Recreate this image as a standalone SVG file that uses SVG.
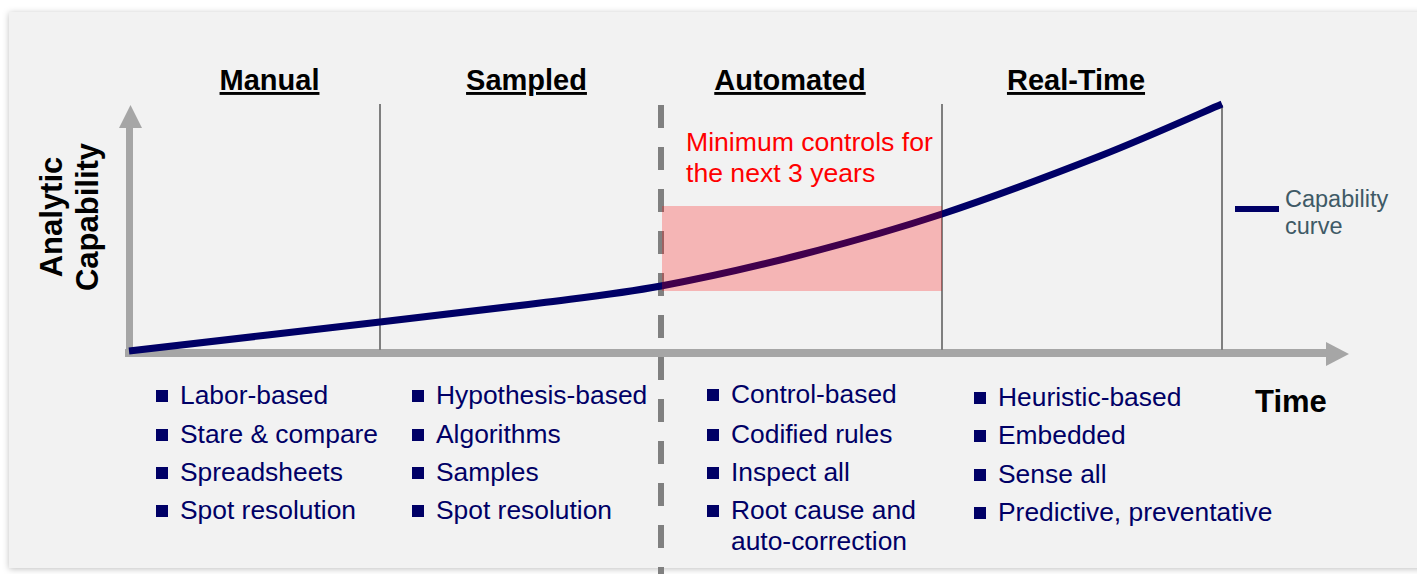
<svg xmlns="http://www.w3.org/2000/svg" width="1417" height="574" viewBox="0 0 1417 574">
<defs>
<filter id="sh" x="-5%" y="-5%" width="110%" height="110%">
<feDropShadow dx="0" dy="1" stdDeviation="3" flood-color="#000" flood-opacity="0.25"/>
</filter>
<style>
.hdr{font-family:"Liberation Sans",Arial,sans-serif;font-weight:bold;font-size:29px;fill:#000;text-anchor:middle;text-decoration:underline}
.ax{font-family:"Liberation Sans",Arial,sans-serif;font-weight:bold;font-size:31px;fill:#000}
.bt{font-family:"Liberation Sans",Arial,sans-serif;font-size:26.4px;fill:#000066}
.red{font-family:"Liberation Sans",Arial,sans-serif;font-size:26.6px;fill:#ff0000}
.leg{font-family:"Liberation Sans",Arial,sans-serif;font-size:23.5px;fill:#3f5a66}
.sq{fill:#000066}
.vl{stroke:#7f7f7f;stroke-width:2}
</style>
</defs>
<rect width="1417" height="574" fill="#ffffff"/>
<rect x="9" y="12" width="1420" height="556" fill="#f2f2f2" filter="url(#sh)"/>

<g id="axes">
<rect x="126" y="126" width="7" height="228" fill="#a6a6a6"/>
<polygon points="119,128 142,128 130.5,105" fill="#a6a6a6"/>
<rect x="125" y="349" width="1203" height="8" fill="#a6a6a6"/>
<polygon points="1326,342 1326,366 1349,354" fill="#a6a6a6"/>
<text class="ax" transform="translate(62,217) rotate(-90)" text-anchor="middle">Analytic</text>
<text class="ax" transform="translate(98,217) rotate(-90)" text-anchor="middle">Capability</text>
<text class="ax" x="1255" y="412">Time</text>
</g>

<g id="dividers">
<line class="vl" x1="380" y1="104" x2="380" y2="350"/>
<line class="vl" x1="942" y1="104" x2="942" y2="350"/>
<line class="vl" x1="1222" y1="105" x2="1222" y2="350"/>
<line x1="661" y1="105" x2="661" y2="574" stroke="#808080" stroke-width="6" stroke-dasharray="23 19"/>
</g>

<g id="headers">
<text class="hdr" x="269.5" y="90">Manual</text>
<text class="hdr" x="526.5" y="90">Sampled</text>
<text class="hdr" x="790" y="90">Automated</text>
<text class="hdr" x="1076" y="90">Real-Time</text>
</g>

<g id="curve">
<path d="M129,351 C170.8,346.2 311.5,330 380,322 C448.5,314 493.2,309 540,303 C586.8,297 617.7,294 661,286 C704.3,278 753.2,267 800,255 C846.8,243 892,230.5 942,214 C992,197.5 1053.3,174.3 1100,156 C1146.7,137.7 1201.7,112.7 1222,104" fill="none" stroke="#000066" stroke-width="7"/>
</g>

<g id="target-zone">
<rect x="662" y="206" width="280" height="85" fill="#ff0000" fill-opacity="0.25"/>
<text class="red" x="686" y="151">Minimum controls for</text>
<text class="red" x="686" y="182">the next 3 years</text>
</g>

<g id="legend">
<line x1="1235" y1="209" x2="1279" y2="209" stroke="#000066" stroke-width="6"/>
<text class="leg" x="1285" y="207">Capability</text>
<text class="leg" x="1285" y="234">curve</text>
</g>

<g id="manual-list">
<rect class="sq" x="156" y="390" width="12" height="12"/><text class="bt" x="180" y="404">Labor-based</text>
<rect class="sq" x="156" y="429" width="12" height="12"/><text class="bt" x="180" y="443">Stare &amp; compare</text>
<rect class="sq" x="156" y="467" width="12" height="12"/><text class="bt" x="180" y="481">Spreadsheets</text>
<rect class="sq" x="156" y="505" width="12" height="12"/><text class="bt" x="180" y="519">Spot resolution</text>
</g>

<g id="sampled-list">
<rect class="sq" x="412" y="390" width="12" height="12"/><text class="bt" x="436" y="404">Hypothesis-based</text>
<rect class="sq" x="412" y="429" width="12" height="12"/><text class="bt" x="436" y="443">Algorithms</text>
<rect class="sq" x="412" y="467" width="12" height="12"/><text class="bt" x="436" y="481">Samples</text>
<rect class="sq" x="412" y="505" width="12" height="12"/><text class="bt" x="436" y="519">Spot resolution</text>
</g>

<g id="automated-list">
<rect class="sq" x="707" y="389" width="12" height="12"/><text class="bt" x="731" y="403">Control-based</text>
<rect class="sq" x="707" y="429" width="12" height="12"/><text class="bt" x="731" y="443">Codified rules</text>
<rect class="sq" x="707" y="467" width="12" height="12"/><text class="bt" x="731" y="481">Inspect all</text>
<rect class="sq" x="707" y="505" width="12" height="12"/><text class="bt" x="731" y="519">Root cause and</text>
<text class="bt" x="731" y="550">auto-correction</text>
</g>

<g id="realtime-list">
<rect class="sq" x="974" y="392" width="12" height="12"/><text class="bt" x="998" y="406">Heuristic-based</text>
<rect class="sq" x="974" y="430" width="12" height="12"/><text class="bt" x="998" y="444">Embedded</text>
<rect class="sq" x="974" y="469" width="12" height="12"/><text class="bt" x="998" y="483">Sense all</text>
<rect class="sq" x="974" y="507" width="12" height="12"/><text class="bt" x="998" y="521">Predictive, preventative</text>
</g>
</svg>
